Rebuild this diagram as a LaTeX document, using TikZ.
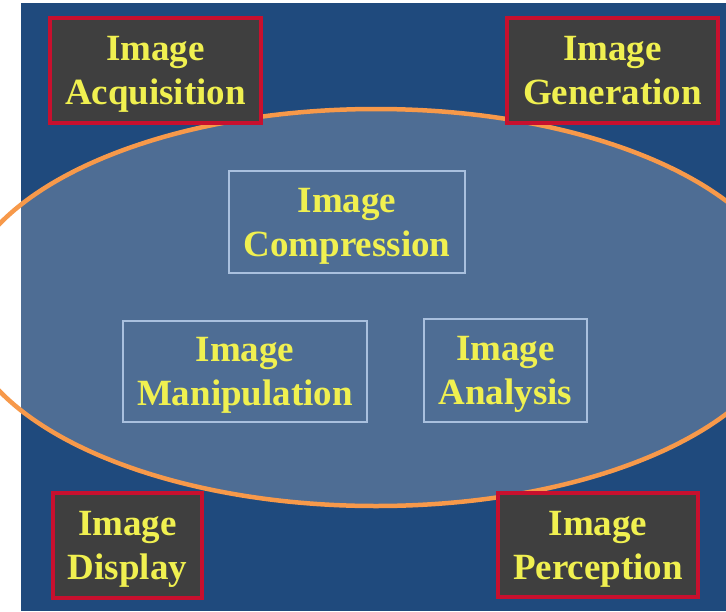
\documentclass[tikz,border=0pt]{standalone}
\usepackage{fontspec}
\setmainfont{Liberation Serif}
\definecolor{bgblue}{HTML}{1F4A7D}
\definecolor{ellfill}{HTML}{4E6D94}
\definecolor{ellline}{HTML}{F7994A}
\definecolor{darkbox}{HTML}{3F3F3F}
\definecolor{redline}{HTML}{C8102E}
\definecolor{lightline}{HTML}{A9C0DE}
\definecolor{txtyellow}{HTML}{F0F050}
\tikzset{
  lbl/.style={align=center, inner sep=0pt, text=txtyellow, text depth=0pt,
    font=\fontsize{37}{44}\selectfont\bfseries},
  outerbox/.style={lbl, draw=redline, fill=darkbox, line width=3.5pt},
  innerbox/.style={lbl, draw=lightline, line width=2pt},
}
\begin{document}
\begin{tikzpicture}[x=1pt, y=-1pt]
\useasboundingbox (0,0) rectangle (726,611);
\fill[white] (0,0) rectangle (726,611);
\fill[bgblue] (21,3) rectangle (726,611);
\begin{scope}
  \clip (21,3) rectangle (726,611);
  \fill[ellfill] (376,307.5) ellipse [x radius=415, y radius=198.5];
\end{scope}
\draw[ellline, line width=4.5pt] (376,307.5) ellipse [x radius=415, y radius=198.5];

\node[outerbox, minimum width=211pt, minimum height=105pt] (acq) at (155.5,70.5) {Image\\Acquisition};
\node[outerbox, minimum width=211pt, minimum height=105pt] (gen) at (612.5,70.5) {Image\\Generation};
\node[outerbox, minimum width=149pt, minimum height=105pt] (disp) at (127.5,545.5) {Image\\Display};
\node[outerbox, minimum width=200pt, minimum height=104pt] (perc) at (598,545) {Image\\Perception};

\node[innerbox, minimum width=236pt, minimum height=102pt] (comp) at (347,222) {Image\\Compression};
\node[innerbox, minimum width=244pt, minimum height=101pt] (manip) at (245,371.5) {Image\\Manipulation};
\node[innerbox, minimum width=163pt, minimum height=103pt] (anal) at (505.5,370.5) {Image\\Analysis};
\end{tikzpicture}
\end{document}
